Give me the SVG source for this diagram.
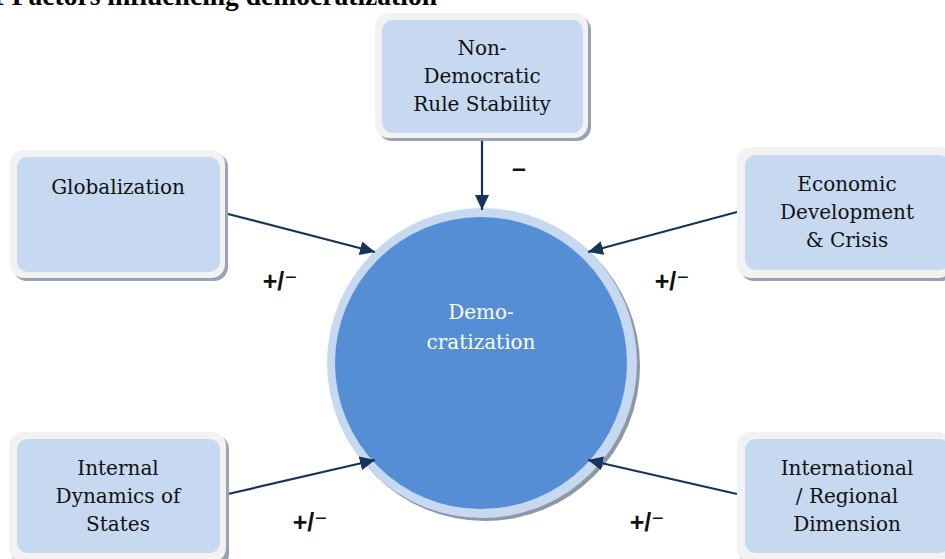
<svg xmlns="http://www.w3.org/2000/svg" width="945" height="559" viewBox="0 0 945 559">
<defs>
<marker id="ah" markerUnits="userSpaceOnUse" markerWidth="16" markerHeight="14" refX="15" refY="7" orient="auto">
<path d="M0,0 L15,7 L0,14 Z" fill="#17335a"/>
</marker>
<style>
.frame{fill:#f2f2f2;}
.shadow{fill:#9aa3b3;}
.inner{fill:#c6d9f1;}
.lbl{font-family:"DejaVu Serif","Liberation Serif",serif;font-size:20px;fill:#111;text-anchor:middle;}
.sign{font-family:"Liberation Sans","DejaVu Sans",sans-serif;font-weight:bold;font-size:25px;fill:#111;text-anchor:middle;}
.conn{stroke:#17335a;stroke-width:2.2;fill:none;marker-end:url(#ah);}
</style>
</defs>
<rect width="945" height="559" fill="#ffffff"/>
<text x="-9" y="5" font-family="Liberation Serif,serif" font-weight="bold" font-size="27" fill="#000" textLength="446" lengthAdjust="spacingAndGlyphs">1 Factors influencing democratization</text>

<g id="democratization">
<circle cx="485" cy="366" r="155" fill="#8e97a6"/>
<circle cx="482" cy="363" r="155" fill="#c6d9f1"/>
<circle cx="481" cy="363" r="146" fill="#558ed5"/>
<text class="lbl" x="481" y="319" style="fill:#ffffff">Demo-</text>
<text class="lbl" x="481" y="349" style="fill:#ffffff">cratization</text>
</g>

<g id="connectors">
<line class="conn" x1="482" y1="140" x2="482" y2="210"/>
<line class="conn" x1="228" y1="214" x2="375" y2="252"/>
<line class="conn" x1="737" y1="212" x2="588" y2="252"/>
<line class="conn" x1="228" y1="494" x2="375" y2="460"/>
<line class="conn" x1="737" y1="494" x2="588" y2="460"/>
</g>

<g id="signs">
<text class="sign" x="519" y="177" font-size="18">–</text>
<text class="sign" x="280" y="290">+/⁻</text>
<text class="sign" x="672" y="290">+/⁻</text>
<text class="sign" x="310" y="531">+/⁻</text>
<text class="sign" x="647" y="531">+/⁻</text>
</g>

<g id="nondemocratic">
<rect class="shadow" x="378" y="16" width="213" height="125" rx="14"/>
<rect class="frame" x="375" y="13" width="213" height="125" rx="14"/>
<rect class="inner" x="382" y="20" width="201" height="113" rx="11"/>
<text class="lbl" x="482" y="55">Non-</text>
<text class="lbl" x="482" y="83">Democratic</text>
<text class="lbl" x="482" y="111">Rule Stability</text>
</g>

<g id="globalization">
<rect class="shadow" x="13" y="153" width="215" height="128" rx="14"/>
<rect class="frame" x="10" y="150" width="215" height="128" rx="14"/>
<rect class="inner" x="17" y="157" width="203" height="115" rx="11"/>
<text class="lbl" x="118" y="194">Globalization</text>
</g>

<g id="economic">
<rect class="shadow" x="740" y="150" width="215" height="131" rx="14"/>
<rect class="frame" x="737" y="147" width="215" height="131" rx="14"/>
<rect class="inner" x="745" y="155" width="205" height="115" rx="11"/>
<text class="lbl" x="847" y="191">Economic</text>
<text class="lbl" x="847" y="219">Development</text>
<text class="lbl" x="847" y="247">&amp; Crisis</text>
</g>

<g id="internal">
<rect class="shadow" x="12" y="435" width="217" height="133" rx="14"/>
<rect class="frame" x="9" y="432" width="217" height="130" rx="14"/>
<rect class="inner" x="17" y="439" width="203" height="114" rx="11"/>
<text class="lbl" x="118" y="475">Internal</text>
<text class="lbl" x="118" y="503">Dynamics of</text>
<text class="lbl" x="118" y="531">States</text>
</g>

<g id="international">
<rect class="shadow" x="740" y="435" width="215" height="133" rx="14"/>
<rect class="frame" x="737" y="432" width="215" height="130" rx="14"/>
<rect class="inner" x="745" y="439" width="205" height="114" rx="11"/>
<text class="lbl" x="847" y="475">International</text>
<text class="lbl" x="847" y="503">/ Regional</text>
<text class="lbl" x="847" y="531">Dimension</text>
</g>
</svg>
